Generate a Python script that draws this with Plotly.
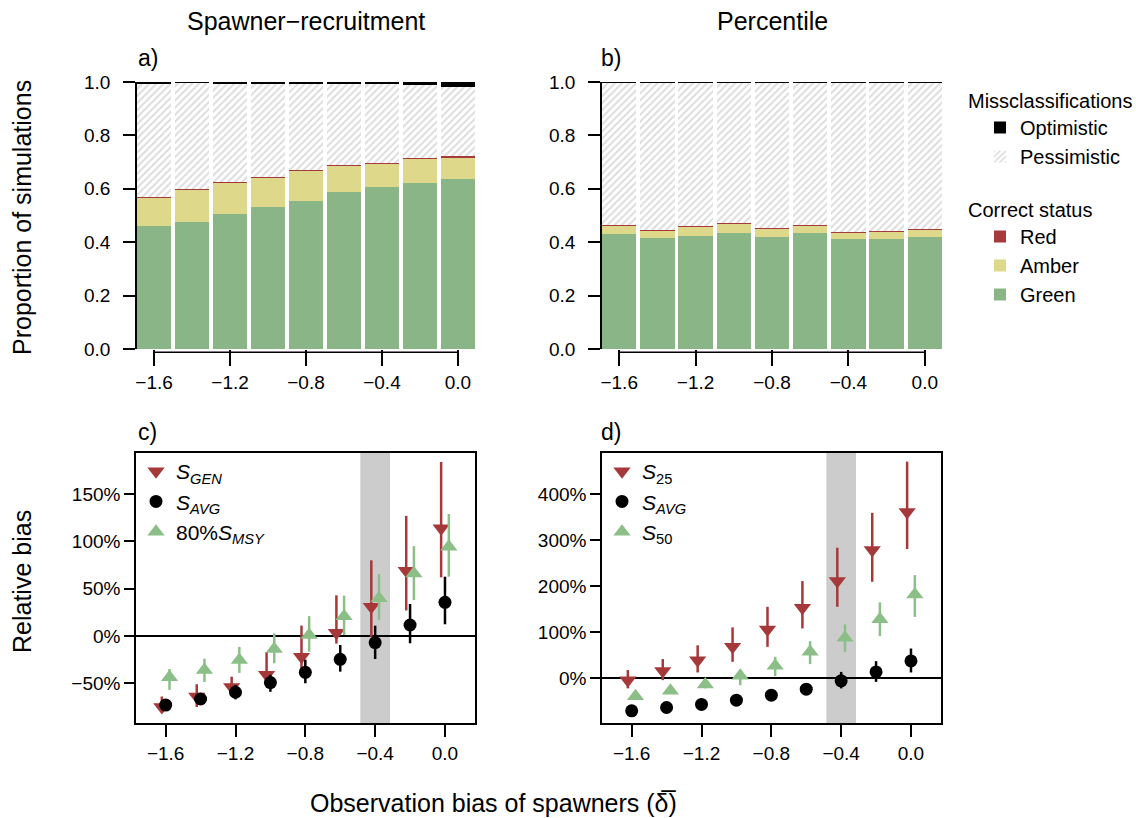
import plotly.graph_objects as go

# ---------------- data ----------------
delta = [-1.6, -1.4, -1.2, -1.0, -0.8, -0.6, -0.4, -0.2, 0.0]
tick_vals = [-1.6, -1.2, -0.8, -0.4, 0.0]
highlight = -0.4          # starred / shaded scenario
band_half = 0.085
dodge = 0.022

# Panel a: spawner-recruitment, proportion of simulations
sr_green = [0.461, 0.474, 0.507, 0.533, 0.556, 0.588, 0.608, 0.623, 0.637]
sr_amber = [0.106, 0.124, 0.117, 0.110, 0.111, 0.099, 0.087, 0.091, 0.081]
sr_red   = [0.003, 0.003, 0.003, 0.003, 0.003, 0.003, 0.003, 0.003, 0.003]
sr_pess  = [0.424, 0.396, 0.366, 0.347, 0.321, 0.302, 0.293, 0.273, 0.262]
sr_opt   = [0.006, 0.003, 0.007, 0.007, 0.009, 0.008, 0.009, 0.010, 0.017]

# Panel b: percentile
pc_green = [0.431, 0.414, 0.422, 0.433, 0.421, 0.436, 0.412, 0.411, 0.418]
pc_amber = [0.033, 0.030, 0.037, 0.036, 0.031, 0.027, 0.025, 0.028, 0.028]
pc_red   = [0.002, 0.002, 0.002, 0.002, 0.002, 0.002, 0.002, 0.002, 0.002]
pc_pess  = [0.532, 0.552, 0.537, 0.527, 0.544, 0.533, 0.559, 0.557, 0.550]
pc_opt   = [0.002, 0.002, 0.002, 0.002, 0.002, 0.002, 0.002, 0.002, 0.002]

# Panel c: relative bias (%) of spawner-recruitment benchmarks
c_sgen    = [-75, -64, -54, -41, -22, 3.5, 31, 69, 114]
c_sgen_lo = [-80, -75, -63, -52, -39, -8, -1, 27, 62]
c_sgen_hi = [-64, -51, -43, -17, 11, 43, 80, 127, 184]
c_savg    = [-73, -66.6, -59.5, -49.3, -38.4, -24.7, -7, 11.6, 35.6]
c_savg_lo = [-78, -72, -67, -59, -50, -37.7, -24.3, -7.7, 12.4]
c_savg_hi = [-68, -61, -52, -41, -25, -9.5, 10.9, 33.8, 62.7]
c_smsy    = [-43.7, -36, -25.4, -13.7, 1, 21, 39.8, 66, 94.4]
c_smsy_lo = [-57, -48.6, -39, -28.9, -16.6, 1, 16.9, 38, 62.7]
c_smsy_hi = [-35, -24, -11.6, 2.8, 21, 42.6, 65.5, 95, 129]

# Panel d: relative bias (%) of percentile benchmarks
d_s25     = [-5, 15, 38.6, 67.7, 105.6, 152.8, 211, 278.8, 362]
d_s25_lo  = [-23, -5, 11.8, 35, 67.7, 107.8, 155, 209.6, 281]
d_s25_hi  = [17, 41, 71, 110, 155, 211, 284, 360, 471.6]
d_savg    = [-72, -64.7, -58, -48.7, -37.8, -24.7, -6.5, 13, 37]
d_savg_lo = [-78, -70, -64, -55, -45, -33, -23, -8.7, 11.8]
d_savg_hi = [-66, -59, -52, -42, -30, -15, 13, 36.5, 64]
d_s50     = [-40, -28.4, -14.5, 4.4, 26.2, 56.8, 87.3, 128, 182]
d_s50_lo  = [-46, -35, -23, -16, 3.7, 30, 56.8, 91, 133]
d_s50_hi  = [-33, -21, -6, 18, 46, 80, 116.6, 164.6, 224]

c_yticks = [-50, 0, 50, 100, 150]
d_yticks = [0, 100, 200, 300, 400]

# ---------------- style ----------------
FONT = "Liberation Sans, Arial, Helvetica, sans-serif"
W, H = 1136, 818
C_GREEN_BAR = "#8AB687"
C_AMBER_BAR = "#DED98A"
C_RED_BAR = "#A63A3A"
C_RED = "#A6383A"
C_GREEN = "#8CBF87"
C_BLACK = "#000000"

def px(x0, x1):
    return [x0 / W, x1 / W]

def py(top, bottom):
    return [1 - bottom / H, 1 - top / H]

def pct(v):
    return f"{v}%".replace("-", "\u2212")

fig = go.Figure()

bar_width = 0.18

def add_bars(xa, ya, green, amber, red, pess, opt, show):
    common = dict(x=delta, width=bar_width, xaxis=xa, yaxis=ya, hoverinfo="skip")
    fig.add_trace(go.Bar(y=green, name="Green", marker=dict(color=C_GREEN_BAR, line_width=0),
                         legend="legend2", showlegend=show, **common))
    fig.add_trace(go.Bar(y=amber, name="Amber", marker=dict(color=C_AMBER_BAR, line_width=0),
                         legend="legend2", showlegend=show, **common))
    fig.add_trace(go.Bar(y=red, name="Red", marker=dict(color=C_RED_BAR, line_width=0),
                         legend="legend2", showlegend=show, **common))
    fig.add_trace(go.Bar(y=pess, name="Pessimistic",
                         marker=dict(color="white", line_width=0,
                                     pattern=dict(shape="/", fgcolor="#b9b9b9", bgcolor="white",
                                                  size=5, solidity=0.4)),
                         legend="legend", showlegend=show, **common))
    fig.add_trace(go.Bar(y=opt, name="Optimistic", marker=dict(color=C_BLACK, line_width=0),
                         legend="legend", showlegend=show, **common))
    # asterisk over highlighted scenario
    fig.add_trace(go.Scatter(x=[highlight], y=[1.052], mode="markers", xaxis=xa, yaxis=ya,
                             marker=dict(symbol="asterisk-open", size=14,
                                         line=dict(width=2.4, color="black")),
                             cliponaxis=False, showlegend=False, hoverinfo="skip"))

add_bars("x", "y", sr_green, sr_amber, sr_red, sr_pess, sr_opt, True)
add_bars("x2", "y2", pc_green, pc_amber, pc_red, pc_pess, pc_opt, False)

def err(v, lo, hi, color):
    return dict(type="data", symmetric=False,
                array=[h - m for h, m in zip(hi, v)],
                arrayminus=[m - l for m, l in zip(v, lo)],
                color=color, thickness=2.5, width=0)

def add_points(xa, ya, leg, series):
    for (name, vals, lo, hi, color, symbol, size, off) in series:
        fig.add_trace(go.Scatter(
            x=[d + off for d in delta], y=vals, mode="markers", name=name,
            xaxis=xa, yaxis=ya, legend=leg,
            marker=dict(color=color, symbol=symbol, size=size, line_width=0),
            error_y=err(vals, lo, hi, color), hoverinfo="skip"))

add_points("x3", "y3", "legend3", [
    ("<i>S</i><sub><i>GEN</i></sub>", c_sgen, c_sgen_lo, c_sgen_hi, C_RED, "triangle-down", 15, -dodge),
    ("<i>S</i><sub><i>AVG</i></sub>", c_savg, c_savg_lo, c_savg_hi, C_BLACK, "circle", 13, 0.0),
    ("80%<i>S</i><sub><i>MSY</i></sub>", c_smsy, c_smsy_lo, c_smsy_hi, C_GREEN, "triangle-up", 15, dodge),
])
add_points("x4", "y4", "legend4", [
    ("<i>S</i><sub>25</sub>", d_s25, d_s25_lo, d_s25_hi, C_RED, "triangle-down", 15, -dodge),
    ("<i>S</i><sub><i>AVG</i></sub>", d_savg, d_savg_lo, d_savg_hi, C_BLACK, "circle", 13, 0.0),
    ("<i>S</i><sub>50</sub>", d_s50, d_s50_lo, d_s50_hi, C_GREEN, "triangle-up", 15, dodge),
])

tickfont = dict(family=FONT, size=19, color="black")
bar_xrange = [delta[0] - bar_width / 2, delta[-1] + bar_width / 2]
pt_xrange = [-1.77, 0.172]

def bar_xaxis(dom, anchor):
    return dict(domain=dom, range=bar_xrange, anchor=anchor, showline=False, showgrid=False,
                zeroline=False, automargin=False,
                ticks="outside", ticklen=16, tickwidth=1.5, tickcolor="black",
                tickvals=tick_vals, tickformat=".1f", tickfont=tickfont, fixedrange=True)

def bar_yaxis(dom, anchor):
    return dict(domain=dom, range=[0, 1], anchor=anchor, showline=True, linecolor="black",
                linewidth=1.5, showgrid=False, zeroline=False, automargin=False,
                ticks="outside", ticklen=12,
                tickwidth=1.5, tickcolor="black", tickvals=[0, 0.2, 0.4, 0.6, 0.8, 1.0],
                tickformat=".1f", tickfont=tickfont, ticklabelstandoff=9)

def pt_xaxis(dom, anchor):
    return dict(domain=dom, range=pt_xrange, anchor=anchor, showline=True, mirror=True,
                linecolor="black", linewidth=1.5, showgrid=False, zeroline=False,
                automargin=False,
                ticks="outside", ticklen=12, tickwidth=1.5, tickcolor="black",
                tickvals=tick_vals, tickformat=".1f", tickfont=tickfont)

def pt_yaxis(dom, anchor, rng, tv):
    return dict(domain=dom, range=rng, anchor=anchor, showline=True, mirror=True,
                linecolor="black", linewidth=1.5, showgrid=False, zeroline=True,
                zerolinecolor="black", zerolinewidth=1.5, automargin=False,
                ticks="outside", ticklen=10,
                tickwidth=1.5, tickcolor="black", tickvals=tv, ticktext=[pct(v) for v in tv],
                tickfont=tickfont, ticklabelstandoff=0)

top_dom = py(82, 349)
bot_dom = py(453, 723)

layout = dict(
    width=W, height=H, margin=dict(l=0, r=0, t=0, b=0, autoexpand=False),
    paper_bgcolor="white", plot_bgcolor="white", barmode="stack", bargap=0,
    font=dict(family=FONT, color="black"),
    xaxis=bar_xaxis(px(137, 475), "y"),
    yaxis=bar_yaxis(top_dom, "x"),
    xaxis2=bar_xaxis(px(602, 942), "y2"),
    yaxis2=bar_yaxis(top_dom, "x2"),
    xaxis3=pt_xaxis(px(136, 475), "y3"),
    yaxis3=pt_yaxis(bot_dom, "x3", [-92, 193.5], c_yticks),
    xaxis4=pt_xaxis(px(602, 941), "y4"),
    yaxis4=pt_yaxis(bot_dom, "x4", [-98.5, 490.5], d_yticks),
    legend=dict(x=966 / W, y=1 - 82 / H, xanchor="left", yanchor="top",
                traceorder="reversed", bgcolor="rgba(0,0,0,0)",
                title=dict(text="Missclassifications", font=dict(size=20, family=FONT)),
                font=dict(size=20, family=FONT), indentation=14, itemclick=False),
    legend2=dict(x=966 / W, y=1 - 191 / H, xanchor="left", yanchor="top",
                 traceorder="reversed", bgcolor="rgba(0,0,0,0)",
                 title=dict(text="Correct status", font=dict(size=20, family=FONT)),
                 font=dict(size=20, family=FONT), indentation=14, itemclick=False),
    legend3=dict(x=136 / W, y=1 - 451 / H, xanchor="left", yanchor="top",
                 bgcolor="rgba(0,0,0,0)", font=dict(size=21, family=FONT), itemclick=False),
    legend4=dict(x=602 / W, y=1 - 451 / H, xanchor="left", yanchor="top",
                 bgcolor="rgba(0,0,0,0)", font=dict(size=21, family=FONT), itemclick=False),
)
fig.update_layout(**layout)

# R-style detached x axis line under bar panels
for xr, yr in (("x", "y domain"), ("x2", "y2 domain")):
    fig.add_shape(type="line", xref=xr, yref=yr, x0=tick_vals[0], x1=tick_vals[-1],
                  y0=-0.012, y1=-0.012, line=dict(color="black", width=1.5))

# shaded highlight band
for xr, yr in (("x3", "y3 domain"), ("x4", "y4 domain")):
    fig.add_shape(type="rect", xref=xr, yref=yr, x0=highlight - band_half,
                  x1=highlight + band_half, y0=0, y1=1, fillcolor="#cccccc",
                  line_width=0, layer="below")

def ann(text, x, y, size, xanchor="center", **kw):
    fig.add_annotation(text=text, x=x / W, y=1 - y / H, xref="paper", yref="paper",
                       xanchor=xanchor, yanchor="middle", showarrow=False,
                       font=dict(size=size, family=FONT, color="black"), **kw)

ann("Spawner\u2212recruitment", 306, 21, 25)
ann("Percentile", 772, 21, 25)
ann("a)", 136, 58, 23, xanchor="left")
ann("b)", 599, 58, 23, xanchor="left")
ann("c)", 136, 432, 23, xanchor="left")
ann("d)", 599, 432, 23, xanchor="left")
ann("Proportion of simulations", 22, 218, 25, textangle=-90)
ann("Relative bias", 22, 582, 25, textangle=-90)
ann("Observation bias of spawners (\u03b4\u0305)", 493, 803, 25)

fig.write_html("out.html", config={"displayModeBar": False},
               post_script="document.body.style.margin='0px';document.body.style.overflow='hidden';")
